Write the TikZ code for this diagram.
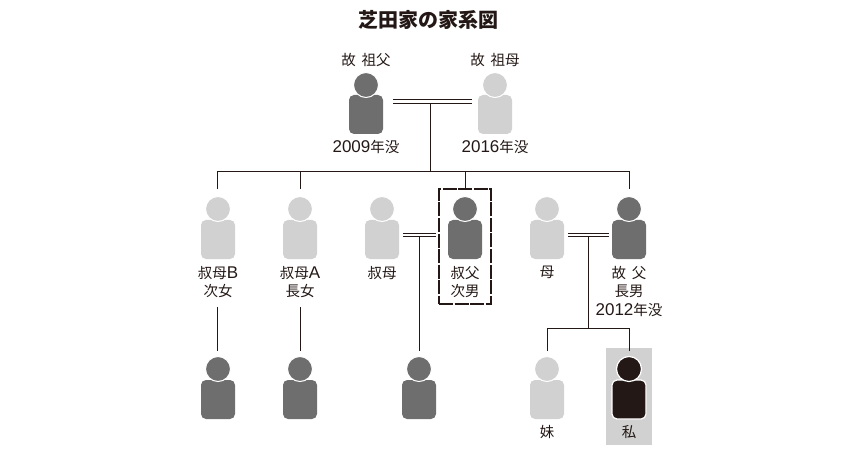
\documentclass[tikz,border=0pt]{standalone}
\usepackage{fontspec}
\setmainfont{Noto Sans CJK JP}
\newfontfamily\latfont{Liberation Sans}
\newfontfamily\titlefont{Noto Sans CJK JP Black}
\newcommand{\lat}[1]{{\latfont\fontsize{17}{18.5}\selectfont #1}}
\definecolor{dark}{HTML}{6E6E6E}
\definecolor{light}{HTML}{D1D1D1}
\definecolor{black2}{HTML}{231815}
\tikzstyle{every node}=[font=\fontsize{14.5}{18.5}\selectfont,text=black2,align=center]
\tikzstyle{line}=[draw=black2,line width=.9]
\tikzstyle{marriage}=[draw=black2,line width=.8,double=white,double distance=2.8]
\tikzstyle{body}=[rectangle,rounded corners=5,minimum width=34,minimum height=39,inner sep=0]
\tikzstyle{head}=[circle,draw=white,line width=1,minimum size=25,inner sep=0]
\tikzstyle{label}=[anchor=north,inner sep=0]

\begin{document}
\begin{tikzpicture}[x=1pt,y=-1pt]
    \useasboundingbox (0,0) rectangle (862,457);
    \node[font=\fontsize{20}{22}\selectfont\titlefont] (title) at (428,20) {芝田家の家系図};
    % highlight behind me
    \fill[light] (606,348) rectangle (652,445);
    % grandparents
    \node[body,fill=dark] (sofu) at (366,114.5) {};
    \node[head,fill=dark] (sofuhead) at (366,85) {};
    \node[body,fill=light] (sobo) at (495,114.5) {};
    \node[head,fill=light] (sobohead) at (495,85) {};
    \node (sofutop) at (366,60) {故\hspace{.4em}祖父};
    \node (sobotop) at (495,60) {故\hspace{.4em}祖母};
    \node (sofuyear) at (366,146.5) {\lat{2009}年没};
    \node (soboyear) at (495,146.5) {\lat{2016}年没};
    % second row
    \node[body,fill=light] (obab) at (218,239.5) {};
    \node[head,fill=light] (obabhead) at (218,209) {};
    \node[body,fill=light] (obaa) at (300,239.5) {};
    \node[head,fill=light] (obaahead) at (300,209) {};
    \node[body,fill=light] (oba) at (382,239.5) {};
    \node[head,fill=light] (obahead) at (382,209) {};
    \node[body,fill=dark] (oji) at (465,239.5) {};
    \node[head,fill=dark] (ojihead) at (465,209) {};
    \node[body,fill=light] (haha) at (547,239.5) {};
    \node[head,fill=light] (hahahead) at (547,209) {};
    \node[body,fill=dark] (chichi) at (629,239.5) {};
    \node[head,fill=dark] (chichihead) at (629,209) {};
    \node[label] (obablabel) at (218,266) {叔母\lat{B}\\次女};
    \node[label] (obaalabel) at (300,266) {叔母\lat{A}\\長女};
    \node[label] (obalabel) at (382,266) {叔母};
    \node[label] (ojilabel) at (465,266) {叔父\\次男};
    \node[label] (hahalabel) at (547,266) {母};
    \node[label] (chichilabel) at (629,266) {故\hspace{.4em}父\\長男\\\lat{2012}年没};
    % dashed frame round the uncle
    \node[draw=black2,line width=1.8,dash pattern=on 14pt off 1.5pt,minimum width=52,minimum height=115,inner sep=0] (ojiframe) at (465,246.5) {};
    % third row
    \node[body,fill=dark] (itokob) at (218,399.5) {};
    \node[head,fill=dark] (itokobhead) at (218,369) {};
    \node[body,fill=dark] (itokoa) at (300,399.5) {};
    \node[head,fill=dark] (itokoahead) at (300,369) {};
    \node[body,fill=dark] (itoko) at (419,399.5) {};
    \node[head,fill=dark] (itokohead) at (419,369) {};
    \node[body,fill=light] (imouto) at (547,399.5) {};
    \node[head,fill=light] (imoutohead) at (547,369) {};
    \node[body,fill=black2,draw=white,line width=1.2] (watashi) at (629,399.5) {};
    \node[head,fill=black2,line width=1.2] (watashihead) at (629,369) {};
    \node (imoutolabel) at (547,432) {妹};
    \node (watashilabel) at (629,432) {私};
    % join points
    \coordinate (sofujoin) at (393,101.5);
    \coordinate (sobojoin) at (472,101.5);
    \coordinate (sojoin) at (430,103);
    \coordinate (bar) at (430,171);
    \coordinate (ojijoin) at (403,235);
    \coordinate (obajoin) at (436,235);
    \coordinate (itokojoin) at (419,237);
    \coordinate (hahajoin) at (568,235);
    \coordinate (chichijoin) at (609,235);
    \coordinate (kojoin) at (588,237);
    \coordinate (kobar) at (588,328);
    % couples
    \draw[marriage] (sofujoin)--(sobojoin);
    \draw[marriage] (ojijoin)--(obajoin);
    \draw[marriage] (hahajoin)--(chichijoin);
    % descent lines
    \draw[line] (sojoin)--(bar);
    \draw[line] (217.5,189)|-(bar);
    \draw[line] (300,189)--(300,171);
    \draw[line] (ojiframe.north)--(465,171);
    \draw[line] (629,189)|-(bar);
    \draw[line] (217.5,307)--(217.5,351);
    \draw[line] (300,307)--(300,351);
    \draw[line] (itokojoin)--(419,351);
    \draw[line] (kojoin)--(kobar);
    \draw[line] (547,351)|-(kobar);
    \draw[line] (629,351)|-(kobar);
  \end{tikzpicture}
\end{document}
